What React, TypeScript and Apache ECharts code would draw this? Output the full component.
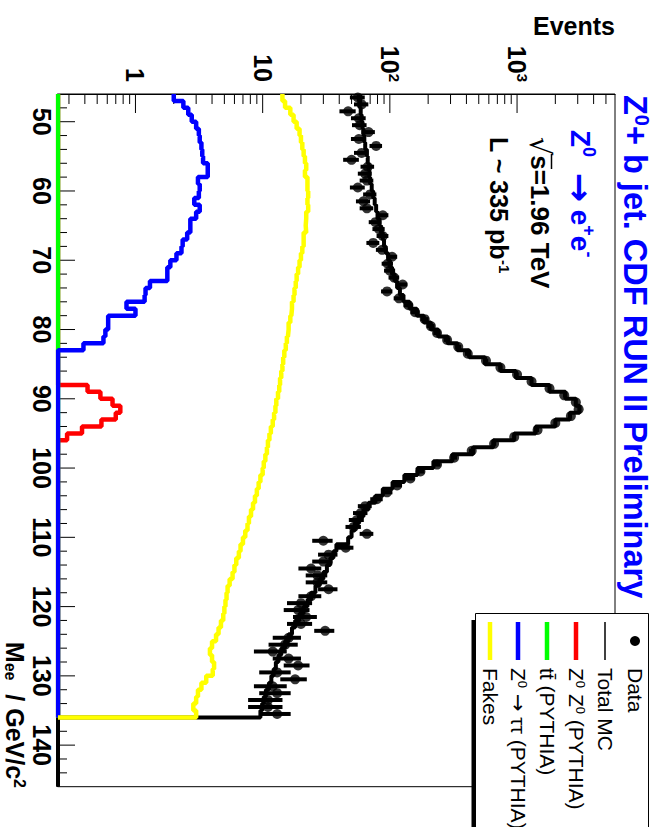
import React, { useEffect, useRef } from "react";
import * as echarts from "echarts";

const FONT = "'Liberation Sans', Arial, Helvetica, sans-serif";
const ARROW_FONT = "'DejaVu Sans', 'Liberation Sans', sans-serif";

// Mass axis (GeV/c^2) and histogram binning
const MASS_MIN = 46;
const MASS_MAX = 146;
const BIN_WIDTH = 1;
// Events axis (log)
const EVENTS_MIN = 0.246;
const EVENTS_MAX = 5890;

// Bins 46..135 GeV (90 bins of 1 GeV)
const dataCounts = [
  56, 60, 47, 57, 58, 68, 57, 78, 60, 50,
  67, 64, 66, 56, 70, 62, 66, 88, 77, 82,
  88, 74, 87, 104, 96, 100, 108, 126, 95, 118,
  140, 158, 188, 210, 235, 282, 345, 410, 570, 740,
  1000, 1300, 1800, 2350, 2900, 3050, 2650, 2000, 1450, 950,
  660, 440, 320, 235, 174, 145, 114, 95, 79, 64,
  59, 55, 52, 66, 30, 45, 33, 30, 24, 27,
  27, 33, 24, 20, 19, 22, 20, 31, 16, 15,
  12, 16, 19, 13, 18, 12, 13, 11, 11, 13,
];

const totalMC = [
  57, 58, 59, 60, 61, 62, 63, 64, 66, 67,
  68, 69, 70, 72, 74, 76, 78, 80, 83, 85,
  88, 90, 93, 97, 100, 104, 109, 114, 120, 128,
  143, 163, 185, 210, 240, 285, 340, 420, 560, 740,
  980, 1300, 1800, 2400, 2900, 3100, 2600, 2000, 1400, 950,
  650, 450, 310, 220, 165, 130, 105, 88, 77, 68,
  62, 57, 53, 50, 47, 38, 36, 34, 32, 30,
  28, 26, 24, 22.5, 21, 19.5, 18, 17, 16, 15,
  14, 13.3, 12.7, 12.2, 11.7, 11.2, 10.6, 10.2, 9.9, 9.6,
];

const zzPythia = [
  0, 0, 0, 0, 0, 0, 0, 0, 0, 0,
  0, 0, 0, 0, 0, 0, 0, 0, 0, 0,
  0, 0, 0, 0, 0, 0, 0, 0, 0, 0,
  0, 0, 0, 0, 0, 0, 0, 0, 0, 0,
  0, 0, 0.42, 0.53, 0.66, 0.76, 0.7, 0.54, 0.38, 0.29,
  0, 0, 0, 0, 0, 0, 0, 0, 0, 0,
  0, 0, 0, 0, 0, 0, 0, 0, 0, 0,
  0, 0, 0, 0, 0, 0, 0, 0, 0, 0,
  0, 0, 0, 0, 0, 0, 0, 0, 0, 0,
];

const ttbarPythia = [
  0, 0, 0, 0, 0, 0, 0, 0, 0, 0,
  0, 0, 0, 0, 0, 0, 0, 0, 0, 0,
  0, 0, 0, 0, 0, 0, 0, 0, 0, 0,
  0, 0, 0, 0, 0, 0, 0, 0, 0, 0,
  0, 0, 0, 0, 0, 0, 0, 0, 0, 0,
  0, 0, 0, 0, 0, 0, 0, 0, 0, 0,
  0, 0, 0, 0, 0, 0, 0, 0, 0, 0,
  0, 0, 0, 0, 0, 0, 0, 0, 0, 0,
  0, 0, 0, 0, 0, 0, 0, 0, 0, 0,
];

const ztautauPythia = [
  2.0, 2.38, 2.6, 2.77, 3.0, 3.15, 3.2, 3.3, 3.35, 3.4,
  3.7, 3.7, 3.1, 3.2, 3.15, 2.9, 3.2, 3.0, 2.7, 2.7,
  2.55, 2.35, 2.3, 2.1, 1.88, 1.78, 1.78, 1.3, 1.2, 1.18,
  0.85, 1.0, 0.61, 0.61, 0.58, 0.56, 0.39, 0, 0, 0,
  0, 0, 0, 0, 0, 0, 0, 0, 0, 0,
  0, 0, 0, 0, 0, 0, 0, 0, 0, 0,
  0, 0, 0, 0, 0, 0, 0, 0, 0, 0,
  0, 0, 0, 0, 0, 0, 0, 0, 0, 0,
  0, 0, 0, 0, 0, 0, 0, 0, 0, 0,
];

const fakes = [
  14.3, 15, 16.5, 17.5, 18.5, 19.5, 20, 20.5, 21, 21.5,
  22, 21.5, 22.5, 22.5, 22.8, 22.5, 22.8, 22, 21.8, 22,
  21, 21, 20.5, 20, 19.5, 19, 18.5, 18.2, 17.8, 17.5,
  17, 16.8, 16.5, 16, 15.8, 15.5, 15.2, 14.8, 14.5, 14.3,
  14, 13.7, 13.5, 13.2, 12.8, 12.6, 12.3, 12, 11.6, 11.3,
  11, 10.8, 10.5, 10.2, 10, 9.6, 9.3, 9, 8.7, 8.4,
  8.1, 7.8, 7.6, 7.3, 7.0, 6.7, 6.5, 6.2, 6.0, 5.8,
  5.5, 5.3, 5.2, 5.1, 5.0, 4.9, 4.7, 4.5, 4.3, 4.0,
  3.85, 4.0, 4.15, 4.05, 3.6, 3.3, 3.1, 3.0, 2.85, 3.0,
];

// Empty bins after the last filled one (136..145) for Total MC
const MC_EMPTY_TAIL_BINS = 10;

// Axis ticks
const massMajorTicks = [50, 60, 70, 80, 90, 100, 110, 120, 130, 140];
const massMinorTicks = [
  48, 52, 54, 56, 58, 62, 64, 66, 68, 72, 74, 76, 78, 82, 84, 86, 88,
  92, 94, 96, 98, 102, 104, 106, 108, 112, 114, 116, 118, 122, 124, 126,
  128, 132, 134, 136, 138, 142, 144,
];
const eventsMajorTicks = [1, 10, 100, 1000];
const eventsMinorTicks = [
  0.3, 0.4, 0.5, 0.6, 0.7, 0.8, 0.9,
  2, 3, 4, 5, 6, 7, 8, 9,
  20, 30, 40, 50, 60, 70, 80, 90,
  200, 300, 400, 500, 600, 700, 800, 900,
  2000, 3000, 4000, 5000,
];

// Legend
const legendEntries = [
  { key: "data", label: "{n|Data}", color: "#000000" },
  { key: "mc", label: "{n|Total MC}", color: "#000000" },
  { key: "zz", label: "{n|Z}{s|0}{n| Z}{s|0}{n| (PYTHIA)}", color: "#ff0000" },
  { key: "tt", label: "{n|tt\u0304 (PYTHIA)}", color: "#00ff00" },
  { key: "ztt", label: "{n|Z}{s|0}{n| }{a|\u2192}{n| \u03c4\u03c4 (PYTHIA)}", color: "#0000ff" },
  { key: "fakes", label: "{n|Fakes}", color: "#ffff00" },
];

function histPoints(values: number[], emptyTail = 0): [number, number][] {
  const pts: [number, number][] = values.map((v, i) => [
    MASS_MIN + i * BIN_WIDTH,
    v > 0 ? v : EVENTS_MIN,
  ]);
  for (let k = 0; k < emptyTail; k++) {
    pts.push([MASS_MIN + (values.length + k) * BIN_WIDTH, EVENTS_MIN]);
  }
  pts.push([MASS_MIN + (values.length + emptyTail) * BIN_WIDTH, EVENTS_MIN]);
  return pts;
}

function histSeries(name: string, values: number[], color: string, width: number, emptyTail = 0) {
  return {
    name,
    type: "line",
    step: "end",
    symbol: "none",
    showSymbol: false,
    clip: true,
    data: histPoints(values, emptyTail),
    lineStyle: { color, width },
    itemStyle: { color },
    silent: true,
  };
}

function isPow10(v: number) {
  const l = Math.log10(v);
  return Math.abs(l - Math.round(l)) < 1e-6;
}

function buildOption() {
  const binCenters = dataCounts.map((_, i) => MASS_MIN + (i + 0.5) * BIN_WIDTH);
  const dataPts = dataCounts.map((c, i) => [binCenters[i], c]);
  const errPts = dataCounts.map((c, i) => [binCenters[i], c, Math.sqrt(c)]);

  const legendChildren: any[] = [];
  legendChildren.push({
    type: "rect",
    shape: { x: 620, y: 190.5, width: 230, height: 4 },
    style: { fill: "#000" },
  });
  legendChildren.push({
    type: "rect",
    shape: { x: 613.5, y: 17.5, width: 230, height: 173 },
    style: { fill: "#fff", stroke: "#000", lineWidth: 1 },
  });
  const legendV = [31, 61, 90, 119, 148, 176];
  legendEntries.forEach((e, i) => {
    const v = legendV[i];
    if (e.key === "data") {
      legendChildren.push({
        type: "circle",
        shape: { cx: 641, cy: v, r: 5 },
        style: { fill: "#000" },
      });
    } else {
      legendChildren.push({
        type: "line",
        shape: { x1: 622, y1: v, x2: 660, y2: v },
        style: { stroke: e.color, lineWidth: e.key === "mc" ? 1.5 : 4.5 },
      });
    }
    legendChildren.push({
      type: "text",
      x: 668,
      y: v,
      style: {
        text: e.label,
        align: "left",
        verticalAlign: "middle",
        fill: "#000",
        rich: {
          n: { fontSize: 21, fontFamily: FONT, fill: "#000" },
          s: { fontSize: 13, fontFamily: FONT, fill: "#000", verticalAlign: "top" },
          a: { fontSize: 21, fontFamily: ARROW_FONT, fill: "#000" },
        },
      },
    });
  });

  const boldRich = (size: number, supSize: number, color: string) => ({
    b: { fontSize: size, fontWeight: "bold", fontFamily: FONT, fill: color },
    s: { fontSize: supSize, fontWeight: "bold", fontFamily: FONT, fill: color, verticalAlign: "top" },
    u: { fontSize: supSize, fontWeight: "bold", fontFamily: FONT, fill: color, verticalAlign: "bottom" },
    a: { fontSize: size * 1.25, fontWeight: "bold", fontFamily: ARROW_FONT, fill: color },
    r: { fontSize: size * 1.1, fontWeight: "normal", fontFamily: ARROW_FONT, fill: color },
  });

  return {
    animation: false,
    backgroundColor: "#ffffff",
    grid: {
      left: 94,
      right: 40.3,
      top: 51,
      bottom: 58,
      show: true,
      borderColor: "#000",
      borderWidth: 1,
      backgroundColor: "transparent",
    },
    xAxis: {
      type: "value",
      min: MASS_MIN,
      max: MASS_MAX,
      interval: 2,
      axisLine: { show: true, lineStyle: { color: "#000", width: 1 } },
      axisTick: { show: false },
      splitLine: { show: false },
      axisLabel: {
        show: true,
        margin: 4,
        color: "#000",
        fontSize: 25,
        fontWeight: "bold",
        fontFamily: FONT,
        formatter: (v: number) => (v % 10 === 0 && v > MASS_MIN && v < MASS_MAX ? String(v) : ""),
      },
    },
    yAxis: {
      type: "log",
      logBase: 10,
      min: EVENTS_MIN,
      max: EVENTS_MAX,
      axisLine: { show: true, lineStyle: { color: "#000", width: 1 } },
      axisTick: { show: false },
      splitLine: { show: false },
      minorTick: { show: false },
      axisLabel: {
        show: true,
        margin: 12,
        color: "#000",
        formatter: (v: number) => {
          if (!isPow10(v)) return "";
          const p = Math.round(Math.log10(v));
          if (p === 0) return "{b|1}";
          if (p === 1) return "{b|10}";
          return "{b|10}{s|" + p + "}";
        },
        rich: {
          b: { fontSize: 25, fontWeight: "bold", fontFamily: FONT, color: "#000" },
          s: { fontSize: 15, fontWeight: "bold", fontFamily: FONT, color: "#000", verticalAlign: "top" },
        },
      },
    },
    graphic: [
      {
        type: "text",
        x: 95,
        y: 31,
        style: {
          text: "{b|Z}{s|0}{b|+ b jet. CDF RUN II Preliminary}",
          align: "left",
          verticalAlign: "middle",
          fill: "#0000ff",
          rich: boldRich(32.5, 20, "#0000ff"),
        },
      },
      {
        type: "text",
        x: 130,
        y: 86,
        style: {
          text: "{b|Z}{s|0}{b|  }{a|\u2192}{b| e}{s|+}{b|e}{s|-}",
          align: "left",
          verticalAlign: "middle",
          fill: "#0000ff",
          rich: boldRich(28, 18, "#0000ff"),
        },
      },
      {
        type: "text",
        x: 137,
        y: 126,
        style: {
          text: "{r|\u221A}{b|s=1.96 TeV}",
          align: "left",
          verticalAlign: "middle",
          fill: "#000",
          rich: boldRich(26, 15, "#000"),
        },
      },
      {
        type: "line",
        shape: { x1: 154, y1: 114.5, x2: 169, y2: 114.5 },
        style: { stroke: "#000", lineWidth: 1.5 },
      },
      {
        type: "text",
        x: 137,
        y: 167,
        style: {
          text: "{b|L ~ 335 pb}{s|-1}",
          align: "left",
          verticalAlign: "middle",
          fill: "#000",
          rich: boldRich(25, 15, "#000"),
        },
      },
      {
        type: "text",
        x: 788,
        y: 651,
        style: {
          text: "{b|M}{u|ee}{b|  / GeV/c}{s|2}",
          align: "right",
          verticalAlign: "middle",
          fill: "#000",
          rich: boldRich(25, 16, "#000"),
        },
      },
      {
        type: "text",
        x: 26,
        y: 51,
        rotation: Math.PI / 2,
        style: {
          text: "Events",
          align: "right",
          verticalAlign: "middle",
          fill: "#000",
          fontSize: 25,
          fontWeight: "bold",
          fontFamily: FONT,
        },
      },
      {
        type: "group",
        z: 100,
        children: legendChildren,
      },
    ],
    series: [
      {
        name: "ticks",
        type: "custom",
        silent: true,
        clip: false,
        data: [[MASS_MIN, 1]],
        encode: { x: 0, y: 1 },
        renderItem: (_params: any, api: any) => {
          const children: any[] = [];
          const line = (x1: number, y1: number, x2: number, y2: number) => ({
            type: "line",
            shape: { x1, y1, x2, y2 },
            style: { stroke: "#000", lineWidth: 1 },
          });
          massMajorTicks.forEach((m) => {
            const p = api.coord([m, EVENTS_MIN]);
            children.push(line(p[0], p[1], p[0], p[1] - 17));
          });
          massMinorTicks.forEach((m) => {
            const p = api.coord([m, EVENTS_MIN]);
            children.push(line(p[0], p[1], p[0], p[1] - 9));
          });
          eventsMajorTicks.forEach((v) => {
            const p = api.coord([MASS_MIN, v]);
            children.push(line(p[0], p[1], p[0] + 19, p[1]));
          });
          eventsMinorTicks.forEach((v) => {
            const p = api.coord([MASS_MIN, v]);
            children.push(line(p[0], p[1], p[0] + 10, p[1]));
          });
          return { type: "group", children };
        },
      },
      histSeries("Total MC", totalMC, "#000000", 4, MC_EMPTY_TAIL_BINS),
      {
        name: "Data errors",
        type: "custom",
        silent: true,
        data: errPts,
        encode: { x: 0, y: 1 },
        renderItem: (_params: any, api: any) => {
          const x = api.value(0);
          const y = api.value(1);
          const e = api.value(2);
          const p1 = api.coord([x, Math.max(y - e, EVENTS_MIN)]);
          const p2 = api.coord([x, y + e]);
          return {
            type: "line",
            shape: { x1: p1[0], y1: p1[1], x2: p2[0], y2: p2[1] },
            style: { stroke: "#000", lineWidth: 4 },
          };
        },
      },
      {
        name: "Data",
        type: "scatter",
        symbol: "circle",
        symbolSize: 10,
        data: dataPts,
        itemStyle: { color: "#000" },
        silent: true,
      },
      histSeries("Z0 Z0 (PYTHIA)", zzPythia, "#ff0000", 4.5),
      histSeries("ttbar (PYTHIA)", ttbarPythia, "#00ff00", 4.5),
      histSeries("Z0 -> tautau (PYTHIA)", ztautauPythia, "#0000ff", 4.5),
      histSeries("Fakes", fakes, "#ffff00", 4.5),
    ],
  };
}

export default function App() {
  const ref = useRef<HTMLDivElement>(null);
  useEffect(() => {
    if (!ref.current) return;
    const chart = echarts.init(ref.current, null, { renderer: "svg", width: 827, height: 666 });
    chart.setOption(buildOption() as any);
    return () => chart.dispose();
  }, []);
  return (
    <div
      style={{
        position: "absolute",
        left: 0,
        top: 0,
        width: 666,
        height: 827,
        overflow: "hidden",
        background: "#ffffff",
      }}
    >
      <div
        ref={ref}
        style={{
          position: "absolute",
          left: 0,
          top: 0,
          width: 827,
          height: 666,
          transformOrigin: "0 0",
          transform: "translate(666px, 0px) rotate(90deg)",
        }}
      />
    </div>
  );
}
